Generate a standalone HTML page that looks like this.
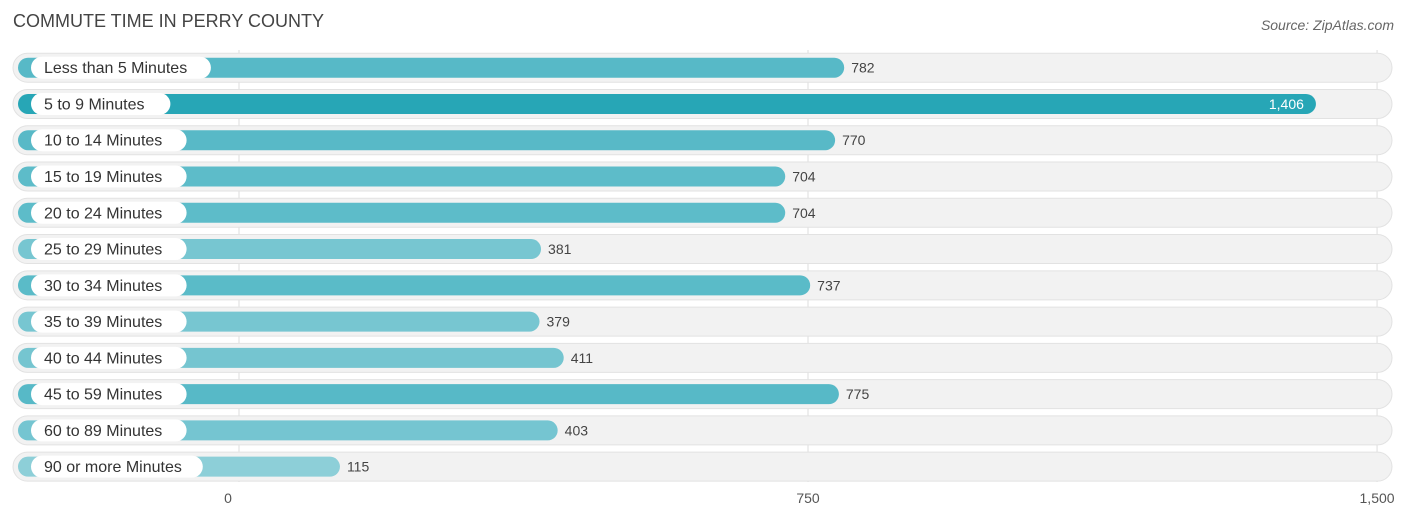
<!DOCTYPE html>
<html><head><meta charset="utf-8"><style>
body{margin:0;background:#fff;font-family:"Liberation Sans",sans-serif;}
svg text{font-family:"Liberation Sans",sans-serif;}
</style></head><body>
<svg id="c" width="1406" height="522" xmlns="http://www.w3.org/2000/svg">
<text x="13" y="27" font-size="18" fill="#444">COMMUTE TIME IN PERRY COUNTY</text>
<text x="1394" y="30" font-size="14" fill="#666" font-style="italic" text-anchor="end">Source: ZipAtlas.com</text>
<g id="grid"></g><g id="rows"></g><g id="axis"></g>
</svg>
<script>
const categories=["Less than 5 Minutes","5 to 9 Minutes","10 to 14 Minutes","15 to 19 Minutes","20 to 24 Minutes","25 to 29 Minutes","30 to 34 Minutes","35 to 39 Minutes","40 to 44 Minutes","45 to 59 Minutes","60 to 89 Minutes","90 or more Minutes"];
const values=[782,1406,770,704,704,381,737,379,411,775,403,115];
const tickValues=[0,750,1500];
const tickLabels=["0","750","1,500"];
const NS="http://www.w3.org/2000/svg";
const x=v=>253+v*0.756;
const gx=v=>239+v*0.7587;
const y=i=>67.7+i*36.27;
const maxV=Math.max(...values);
function mk(t,a,p){const e=document.createElementNS(NS,t);for(const k in a)e.setAttribute(k,a[k]);p.appendChild(e);return e;}
const grid=document.getElementById('grid'),rows=document.getElementById('rows'),axis=document.getElementById('axis');
tickValues.forEach((t,i)=>{
  const l=mk('line',{x1:gx(t),x2:gx(t),y1:50,y2:482,stroke:'#ddd','stroke-width':1},grid);
  
  
  const tx=mk('text',{x:gx(t)-(i==0?11:0),y:503,'font-size':14,fill:'#555','text-anchor':'middle'},axis);
  tx.textContent=tickLabels[i];
  
  
});
function col(v){const r=v/maxV;if(v===maxV)return '#27a6b6';const a=[141,207,216],b=[84,184,198];const f=Math.min(1,Math.max(0,(r-0.08)/0.5));return `rgb(${a.map((c,k)=>Math.round(c+(b[k]-c)*f)).join(',')})`;}
categories.forEach((c,i)=>{
  const g=mk('g',{},rows);
  
  
  const cy=y(i);
  const bg=mk('rect',{x:13,y:cy-14.5,width:1379,height:29,rx:14.5,fill:'#f2f2f2',stroke:'#e2e2e2','stroke-width':1},g);
  
  
  const bar=mk('rect',{x:18,y:cy-10,width:x(values[i])-18,height:20,rx:10,fill:col(values[i])},g);
  
  
  const lbl=mk('text',{x:44,y:cy+5.5,'font-size':16,fill:'#333'},g);
  lbl.textContent=c;
  const pw=c.length*8.1+26;
  const pill=mk('rect',{x:31,y:cy-11,width:pw,height:22,rx:11,fill:'#fff'},g);
  g.insertBefore(pill,lbl);
  
  
  
  
  const isMax=values[i]===maxV;
  const vt=mk('text',{x:isMax?x(values[i])-12:x(values[i])+7,y:cy+5,'font-size':14,fill:isMax?'#fff':'#444','text-anchor':isMax?'end':'start'},g);
  vt.textContent=values[i].toLocaleString('en-US');
  
  
});
</script>
</body></html>
